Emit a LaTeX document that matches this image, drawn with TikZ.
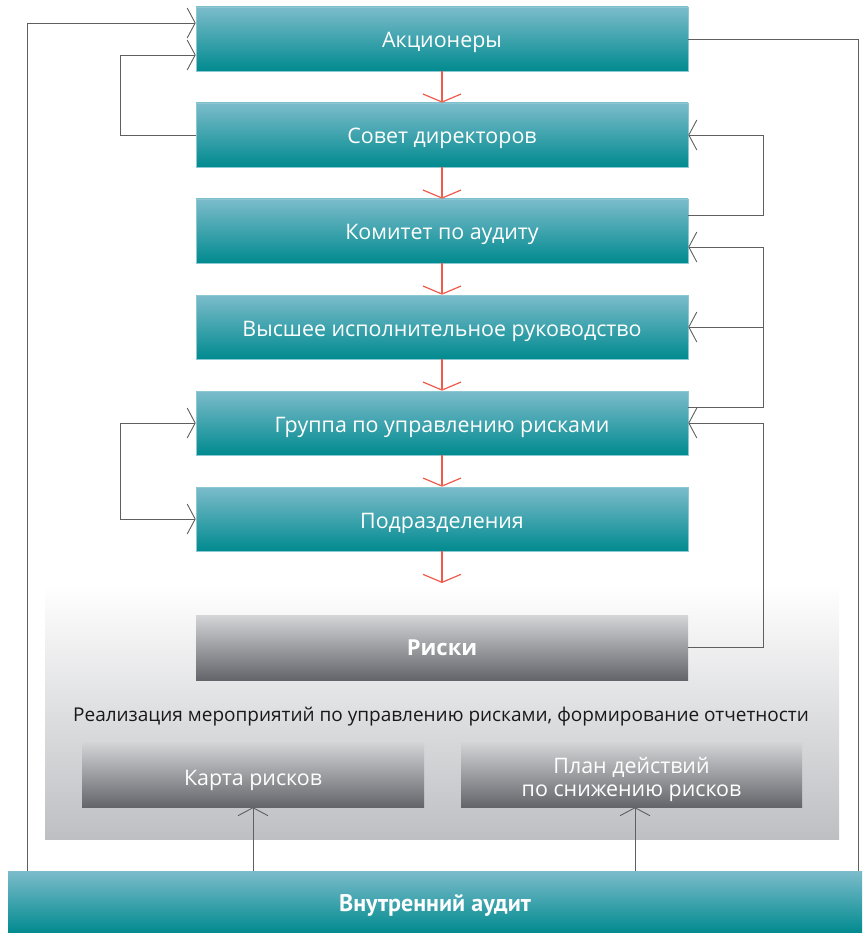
\documentclass[tikz,border=0pt]{standalone}
\usepackage{fontspec}
\setmainfont{Open Sans}
\newfontfamily\ptsans{PT Sans}
\usetikzlibrary{arrows.meta,calc}
\definecolor{tealtop}{RGB}{124,188,203}
\definecolor{tealbot}{RGB}{0,138,143}
\definecolor{tealedge}{RGB}{140,200,210}
\definecolor{graytop}{RGB}{212,213,215}
\definecolor{graybot}{RGB}{100,101,106}
\definecolor{panelbot}{RGB}{190,191,195}
\definecolor{redarrow}{RGB}{240,90,75}
\definecolor{linegray}{RGB}{95,95,95}
\tikzset{
  tealbox/.style={rectangle, minimum width=492pt, minimum height=64pt, inner sep=0pt,
    top color=tealtop, bottom color=tealbot, draw=tealedge, line width=0.6pt,
    text=white, font=\fontsize{21.4}{25}\selectfont, text height=18pt, text depth=0pt},
  graybox/.style={rectangle, inner sep=0pt, top color=graytop, bottom color=graybot,
    text=white, font=\fontsize{21.4}{25}\selectfont, align=center},
  redarr/.style={draw=redarrow, line width=1.2pt, -{Straight Barb[length=8pt,width=38pt,line width=1.2pt]}},
  conn/.style={draw=linegray, line width=0.9pt},
  barb/.style={-{Straight Barb[length=8pt,width=30pt,line width=0.9pt]}},
  bbarb/.style={{Straight Barb[length=8pt,width=30pt,line width=0.9pt]}-{Straight Barb[length=8pt,width=30pt,line width=0.9pt]}}
}
\begin{document}
\begin{tikzpicture}[x=1pt,y=-1pt]
\useasboundingbox (0,0) rectangle (862,933);
% background panel
\shade[top color=white, bottom color=panelbot] (45,585) rectangle (839,839);
% nodes
\node[tealbox] (a1) at (442,39) {Акционеры};
\node[tealbox] (a2) at (442,135) {Совет директоров};
\node[tealbox] (a3) at (442,231) {Комитет по аудиту};
\node[tealbox] (a4) at (442,327) {Высшее исполнительное руководство};
\node[tealbox] (a5) at (442,423) {Группа по управлению рисками};
\node[tealbox] (a6) at (442,519) {Подразделения};
\node[graybox, minimum width=492pt, minimum height=65pt, font=\fontsize{22}{26}\selectfont\bfseries,
  text height=16.4pt, text depth=0pt] (r) at (442,647.5) {Риски};
\node[font=\fontsize{19}{23}\selectfont, text=black!90] (impl) at (441,716.5) {Реализация мероприятий по управлению рисками, формирование отчетности};
\node[graybox, minimum width=342pt, minimum height=65pt, text height=21.6pt, text depth=0pt] (k) at (253,774.5) {Карта рисков};
\node[graybox, minimum width=341pt, minimum height=65pt,
  label={[text=white, font=\fontsize{21.4}{22.7}\selectfont, align=center, yshift=-5pt]center:{План действий\\по снижению рисков}}] (p) at (631.5,774.5) {};
\node[rectangle, inner sep=0pt, minimum width=854pt, minimum height=62pt, top color=tealtop, bottom color=tealbot,
  text=white, font=\ptsans\fontsize{24}{28}\selectfont\bfseries, text height=19pt, text depth=0pt] (au) at (435,902) {Внутренний аудит};
% helper coordinates
\coordinate (xo) at (27,0);
\coordinate (xl) at (120,0);
\coordinate (xm) at (763,0);
\coordinate (xr) at (858,0);
\coordinate (pl) at (635,0);
\coordinate (rend) at (442,583);
% red arrows
\draw[redarr] (a1.south) -- (a2.north);
\draw[redarr] (a2.south) -- (a3.north);
\draw[redarr] (a3.south) -- (a4.north);
\draw[redarr] (a4.south) -- (a5.north);
\draw[redarr] (a5.south) -- (a6.north);
\draw[redarr] (a6.south) -- (rend);
% gray connectors
\draw[conn, barb] (au.north -| xo) |- ([yshift=16pt]a1.west);
\draw[conn, barb] (a2.west) -- (a2.west -| xl) |- ([yshift=-16pt]a1.west);
\draw[conn] (a1.east) -- (a1.east -| xr) -- (au.north -| xr);
\draw[conn, barb] ([yshift=16pt]a3.east) -- ([yshift=16pt]a3.east -| xm) |- (a2.east);
\draw[conn, barb] ([yshift=16pt]a5.east) -- ([yshift=16pt]a5.east -| xm) |- ([yshift=-16pt]a3.east);
\draw[conn, barb] (a4.east -| xm) -- (a4.east);
\draw[conn, barb] (r.east) -- (r.east -| xm) |- (a5.east);
\draw[conn, bbarb] (a5.west) -- (a5.west -| xl) |- (a6.west);
\draw[conn, barb] (au.north -| k.south) -- (k.south);
\draw[conn, barb] (au.north -| pl) -- (k.south -| pl);
\end{tikzpicture}
\end{document}
